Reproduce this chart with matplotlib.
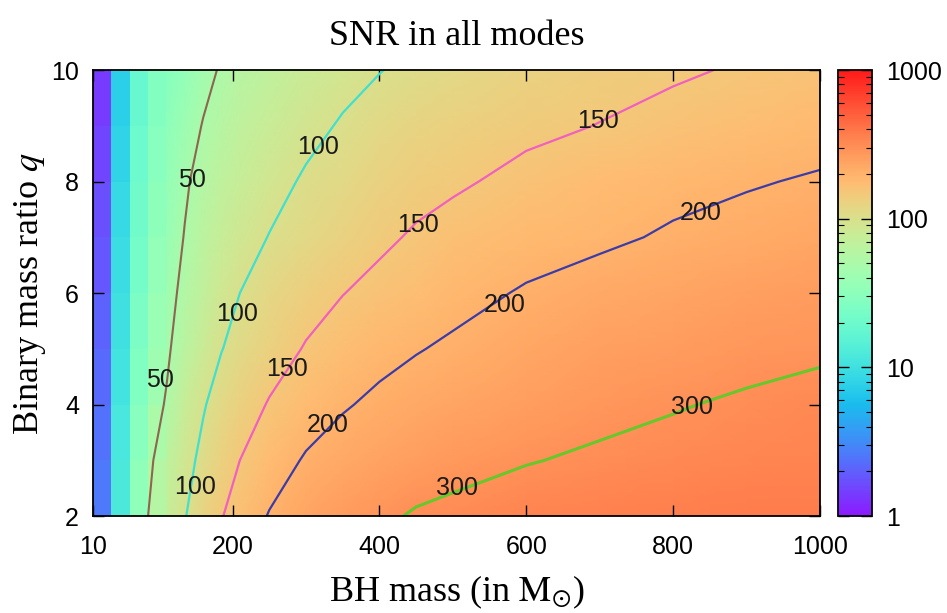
import numpy as np
import matplotlib
matplotlib.use("Agg")
import matplotlib.pyplot as plt
from matplotlib.colors import LogNorm, ListedColormap

# BH mass grid (solar masses) and binary mass ratio grid
mass = [10, 35, 60, 85, 110, 135, 160, 185, 210, 250, 300, 350, 400, 450, 500,
        600, 700, 800, 900, 1000]
ratio = [2, 3, 4, 5, 6, 7, 8, 9, 10]

# SNR summed over all modes, one row per mass ratio
snr = [
    [0.5, 5.0, 20, 50, 74, 98, 123, 148, 168, 203, 233, 260, 285, 308, 320, 340, 354, 364, 372, 378],  # q=2
    [0.5, 4.5, 19, 44, 65, 88, 109, 130, 150, 175, 205, 225, 243, 259, 272, 296, 312, 324, 334, 342],  # q=3
    [0.45, 4.1, 18, 38, 52, 75, 97, 115, 129, 153, 175, 195, 211, 224, 236, 259, 278, 295, 310, 322],  # q=4
    [0.4, 3.8, 17, 34, 46, 63, 80, 99, 111, 130, 153, 170, 184, 197, 208, 229, 247, 262, 276, 289],    # q=5
    [0.38, 3.5, 16, 31, 42, 56, 70, 86, 100, 117, 133, 149, 162, 173, 183, 205, 221, 236, 250, 262],   # q=6
    [0.35, 3.2, 15, 29, 38, 51, 64, 76, 87, 101, 115, 128, 142, 155, 165, 178, 191, 206, 217, 228],    # q=7
    [0.33, 2.9, 14, 27, 35, 47, 58, 68, 77, 89, 104, 115, 126, 136, 144, 161, 174, 186, 196, 205],     # q=8
    [0.31, 2.6, 13, 25, 32, 41, 51, 60, 68, 79, 91, 103, 113, 122, 130, 141, 151, 162, 172, 181],      # q=9
    [0.3, 2.4, 12, 23, 29, 35, 44, 52, 59, 69, 80, 90, 99, 107, 114, 126, 136, 145, 154, 162],         # q=10
]

levels = [50, 100, 150, 200, 300]
level_colors = ["#8c6650", "#40e0d0", "#f060c0", "#3c3ca8", "#66c82a"]
level_widths = [1.5, 1.6, 1.6, 1.6, 2.2]

# where each contour carries its value
label_spots = {
    50: [(145, 8.03), (101, 4.44)],
    100: [(316, 8.62), (206, 5.62), (149, 2.52)],
    150: [(698, 9.09), (453, 7.22), (274, 4.64)],
    200: [(837, 7.43), (571, 5.78), (330, 3.63)],
    300: [(826, 3.96), (506, 2.50)],
}

# gnuplot "rgbformulae 33,13,10" palette, a touch lighter
t = np.linspace(0, 1, 256)
pal = np.column_stack([np.clip(np.abs(2 * t - 0.5), 0, 1),
                       np.sin(np.pi * t),
                       np.cos(np.pi * t / 2)])
pal = np.clip(pal, 0, 1) * 0.9 + 0.1
cmap = ListedColormap(pal)

sans = "Liberation Sans"
serif = "Liberation Serif"
plt.rcParams["mathtext.fontset"] = "stix"

fig = plt.figure(figsize=(9.47, 6.13), dpi=100)
ax = fig.add_axes([0.0982, 0.1582, 0.7677, 0.7276])
cax = fig.add_axes([0.8849, 0.1582, 0.0359, 0.7276])

M, Q = np.meshgrid(mass, ratio)
Z = np.array(snr)
norm = LogNorm(vmin=1, vmax=1000)

# low-mass columns: one flat colour per quad (mean of its corners), pm3d style
nflat = 4
Zc = (Z[:-1, :-1] + Z[1:, :-1] + Z[:-1, 1:] + Z[1:, 1:]) / 4
ax.pcolormesh(M[:, :nflat + 1], Q[:, :nflat + 1], Zc[:, :nflat],
              shading="flat", cmap=cmap, norm=norm)
mesh = ax.pcolormesh(M[:, nflat:], Q[:, nflat:], Z[:, nflat:],
                     shading="gouraud", cmap=cmap, norm=norm)

ax.contour(M, Q, Z, levels=levels, colors=level_colors, linewidths=level_widths)
for lev in levels:
    for x, y in label_spots[lev]:
        ax.text(x, y, str(lev), ha="center", va="center", fontsize=18,
                family=sans, color="#1a1a1a")

ax.set_xlim(10, 1000)
ax.set_ylim(2, 10)
ax.set_xticks([10, 200, 400, 600, 800, 1000])
ax.set_yticks([2, 4, 6, 8, 10])
ax.tick_params(direction="in", top=True, right=True, length=8, width=1,
               labelsize=18)
ax.tick_params(axis="x", pad=14)
ax.tick_params(axis="y", pad=10)
for lab in ax.get_xticklabels() + ax.get_yticklabels():
    lab.set_family(sans)
for sp in ax.spines.values():
    sp.set_linewidth(1.3)

ax.set_title("SNR in all modes", family=serif, fontsize=26, pad=18)
ax.set_xlabel(r"BH mass (in $\mathrm{M}_{\odot}$)", family=serif, fontsize=26,
              labelpad=10)
ax.set_ylabel(r"Binary mass ratio $q$", family=serif, fontsize=26, labelpad=2)

cbar = fig.colorbar(mesh, cax=cax)
cbar.set_ticks([1, 10, 100, 1000], labels=["1", "10", "100", "1000"])
cbar.minorticks_on()
cax.tick_params(which="both", direction="in", left=True, right=True,
                labelsize=18, pad=10)
cax.tick_params(which="major", length=8, width=1)
cax.tick_params(which="minor", length=4, width=0.8)
for lab in cax.get_yticklabels():
    lab.set_family(sans)
cbar.outline.set_linewidth(1.3)

fig.savefig("out.png", dpi=100)
